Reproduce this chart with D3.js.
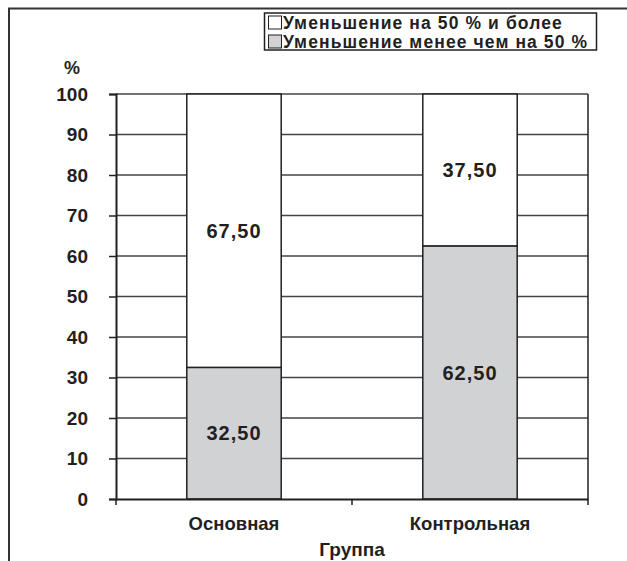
<!DOCTYPE html>
<html>
<head>
<meta charset="utf-8">
<script src="https://cdn.jsdelivr.net/npm/d3@7"></script>
<style>
  html, body { margin: 0; padding: 0; background: #fff; }
  svg { display: block; }
  text { font-family: "Liberation Sans", Arial, Helvetica, sans-serif; font-weight: bold; fill: #231f20; }
</style>
</head>
<body>
<svg id="chart" width="627" height="561"></svg>
<script>
// Группы сравнения
const groups = ["Основная", "Контрольная"];
// Доля пациентов, %
const lessThanHalf = [32.5, 62.5];     // Уменьшение менее чем на 50 %
const halfOrMore = [67.5, 37.5];       // Уменьшение на 50 % и более
const seriesNames = ["Уменьшение на 50 % и более", "Уменьшение менее чем на 50 %"];
const yTicks = [0, 10, 20, 30, 40, 50, 60, 70, 80, 90, 100];
const yLabel = "%";
const xLabel = "Группа";

const fmt = v => v.toFixed(2).replace(".", ",");

const svg = d3.select("#chart");
const ink = "#231f20";
const grey = "#d1d2d4";

// outer frame (top and left edges)
svg.append("path")
  .attr("d", "M9,561 V8.5 H627")
  .attr("fill", "none").attr("stroke", "#333").attr("stroke-width", 2);

const plot = { left: 116, right: 588, top: 94, bottom: 499 };

const x = d3.scaleBand().domain(groups).range([plot.left, plot.right]).paddingInner(0).paddingOuter(0);
const y = d3.scaleLinear().domain([0, 100]).range([plot.bottom, plot.top]);
const barW = x.bandwidth() * 0.4;

// gridlines
svg.append("g").selectAll("line").data(yTicks.filter(t => t > 0)).join("line")
  .attr("x1", plot.left).attr("x2", plot.right)
  .attr("y1", d => y(d)).attr("y2", d => y(d))
  .attr("stroke", "#444").attr("stroke-width", 1.3);

// plot right edge
svg.append("line")
  .attr("x1", plot.right).attr("x2", plot.right)
  .attr("y1", plot.top).attr("y2", plot.bottom)
  .attr("stroke", ink).attr("stroke-width", 1.5);

// stacked bars
const stack = groups.map((g, i) => [
  { g, lo: 0, hi: lessThanHalf[i], fill: grey, v: lessThanHalf[i] },
  { g, lo: lessThanHalf[i], hi: lessThanHalf[i] + halfOrMore[i], fill: "#fff", v: halfOrMore[i] }
]).flat();

svg.append("g").selectAll("rect").data(stack).join("rect")
  .attr("x", d => x(d.g) + (x.bandwidth() - barW) / 2)
  .attr("width", barW)
  .attr("y", d => y(d.hi))
  .attr("height", d => y(d.lo) - y(d.hi))
  .attr("fill", d => d.fill)
  .attr("stroke", ink).attr("stroke-width", 1.5);

svg.append("g").selectAll("text").data(stack).join("text")
  .attr("x", d => x(d.g) + x.bandwidth() / 2)
  .attr("y", d => y((d.lo + d.hi) / 2))
  .attr("dy", "0.36em")
  .attr("text-anchor", "middle")
  .attr("font-size", 20)
  .attr("letter-spacing", 1)
  .text(d => fmt(d.v));

// y axis
const yAxis = svg.append("g")
  .attr("transform", `translate(${plot.left},0)`)
  .call(d3.axisLeft(y).tickValues(yTicks).tickSize(7).tickPadding(21).tickFormat(d3.format("d")));
yAxis.select(".domain").attr("stroke", ink).attr("stroke-width", 2);
yAxis.selectAll(".tick line").attr("stroke", ink).attr("stroke-width", 1.5);
yAxis.selectAll(".tick text").attr("font-size", 19).attr("font-family", null).attr("fill", ink);

// x axis
const xAxis = svg.append("g")
  .attr("transform", `translate(0,${plot.bottom})`)
  .call(d3.axisBottom(x).tickSize(0).tickPadding(18));
xAxis.select(".domain").attr("stroke", ink).attr("stroke-width", 2);
xAxis.selectAll(".tick text").attr("font-size", 18.5).attr("font-family", null).attr("fill", ink);
// category separators
svg.append("g").selectAll("line")
  .data(groups.map(g => x(g)).concat([plot.right]))
  .join("line")
  .attr("x1", d => d).attr("x2", d => d)
  .attr("y1", plot.bottom).attr("y2", plot.bottom + 6)
  .attr("stroke", ink).attr("stroke-width", 1.5);

// axis titles
svg.append("text").attr("x", 72).attr("y", 68).attr("dy", "0.36em")
  .attr("text-anchor", "middle").attr("font-size", 18).text(yLabel);
svg.append("text").attr("x", (plot.left + plot.right) / 2).attr("y", 549).attr("dy", "0.36em")
  .attr("text-anchor", "middle").attr("font-size", 19).text(xLabel);

// legend
const lg = svg.append("g");
lg.append("rect").attr("x", 264.5).attr("y", 13).attr("width", 332).attr("height", 37)
  .attr("fill", "#fff").attr("stroke", ink).attr("stroke-width", 1.5);
const legendFills = ["#fff", grey];
seriesNames.forEach((name, i) => {
  const cy = 22.5 + i * 19;
  lg.append("rect").attr("x", 268.5).attr("y", cy - 6.5).attr("width", 13).attr("height", 13)
    .attr("fill", legendFills[i]).attr("stroke", ink).attr("stroke-width", 1);
  lg.append("text").attr("x", 283).attr("y", cy).attr("dy", "0.36em")
    .attr("font-size", 17.5).attr("letter-spacing", 1.1).text(name);
});
</script>
</body>
</html>
